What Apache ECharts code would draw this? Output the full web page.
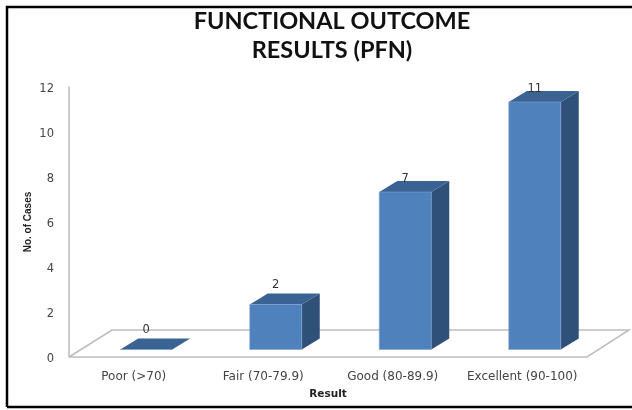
<!DOCTYPE html>
<html>
<head>
<meta charset="utf-8">
<style>
html, body { margin: 0; padding: 0; background: #fff; }
#main { width: 632px; height: 410px; }
</style>
<script src="https://cdn.jsdelivr.net/npm/echarts@6/dist/echarts.min.js"></script>
</head>
<body>
<div id="main"></div>
<script>
var categories = ['Poor (>70)', 'Fair (70-79.9)', 'Good (80-89.9)', 'Excellent (90-100)'];
var cases = [0, 2, 7, 11];
var yTicks = [0, 2, 4, 6, 8, 10, 12];

var chart = echarts.init(document.getElementById('main'));

var gridLeft = 69, gridTop = 87, gridRight = 45, gridBottom = 53;
var depthX = 18, depthY = 11;
var floorLift = 7.5, barWidth = 52, barShift = 12.5;

function renderBar(params, api) {
    var v = api.value(1);
    var p = api.coord([api.value(0), v]);
    var base = api.coord([api.value(0), 0]);
    var x0 = p[0] + barShift - barWidth / 2;
    var x1 = x0 + barWidth;
    var top = p[1] - floorLift;
    var bottom = base[1] - floorLift;
    var labelGap = v < 3 ? 19 : 13;
    return {
        type: 'group',
        children: [
            {
                type: 'polygon',
                shape: { points: [[x1, top], [x1 + depthX, top - depthY], [x1 + depthX, bottom - depthY], [x1, bottom]] },
                style: { fill: '#2f5079' }
            },
            {
                type: 'polygon',
                shape: { points: [[x0, top], [x0 + depthX, top - depthY], [x1 + depthX, top - depthY], [x1, top]] },
                style: { fill: '#3a6393' }
            },
            {
                type: 'rect',
                shape: { x: x0, y: top, width: barWidth, height: bottom - top },
                style: { fill: '#4f81bd', stroke: '#7fa3cf', lineWidth: 0.6 }
            },
            {
                type: 'text',
                x: x0 + barWidth / 2,
                y: top - labelGap,
                z2: 10,
                style: {
                    text: String(v),
                    fill: '#333',
                    font: '11.5px "DejaVu Sans"',
                    align: 'center',
                    verticalAlign: 'middle'
                }
            }
        ]
    };
}

chart.setOption({
    animation: false,
    backgroundColor: '#fff',
    title: {
        text: 'FUNCTIONAL OUTCOME\nRESULTS (PFN)',
        left: 327,
        top: 2,
        textAlign: 'center',
        textStyle: { fontFamily: 'Lato', fontWeight: 'bold', fontSize: 23.5, lineHeight: 29, color: '#111' }
    },
    graphic: [
        {
            type: 'polyline',
            silent: true,
            z: 0,
            shape: { points: [[69, 357], [112, 330], [629, 330], [587, 357], [69, 357]] },
            style: { stroke: '#bdbdbd', lineWidth: 1.5, fill: 'none' }
        },
        {
            type: 'polyline',
            silent: true,
            z: 100,
            shape: { points: [[7, 407], [7, 7], [632, 7]] },
            style: { stroke: '#000', lineWidth: 2.5, fill: 'none' }
        },
        {
            type: 'line',
            silent: true,
            z: 100,
            shape: { x1: 7, y1: 407, x2: 632, y2: 407 },
            style: { stroke: '#000', lineWidth: 2.5 }
        }
    ],
    grid: { left: gridLeft, top: gridTop, right: gridRight, bottom: gridBottom, containLabel: false },
    xAxis: {
        type: 'category',
        data: categories,
        name: 'Result',
        nameLocation: 'middle',
        nameGap: 32,
        nameMoveOverlap: false,
        nameTextStyle: { fontFamily: 'DejaVu Sans', fontWeight: 'bold', fontSize: 10.5, color: '#222' },
        axisLine: { show: false },
        axisTick: { show: false },
        axisLabel: { fontFamily: 'DejaVu Sans', fontSize: 12, color: '#444', margin: 14, interval: 0 }
    },
    yAxis: {
        type: 'value',
        min: yTicks[0],
        max: yTicks[yTicks.length - 1],
        interval: 2,
        name: 'No. of Cases',
        nameLocation: 'middle',
        nameGap: 36,
        nameMoveOverlap: false,
        nameTextStyle: { fontFamily: 'Liberation Sans', fontWeight: 'bold', fontSize: 10, color: '#222' },
        axisLine: { show: true, lineStyle: { color: '#bdbdbd', width: 1.5 } },
        axisTick: { show: false },
        splitLine: { show: false },
        axisLabel: { fontFamily: 'DejaVu Sans', fontSize: 11.5, color: '#444', margin: 15, verticalAlign: 'top', lineHeight: 5 }
    },
    series: [{
        type: 'custom',
        renderItem: renderBar,
        clip: false,
        encode: { x: 0, y: 1 },
        data: cases.map(function (v, i) { return [i, v]; })
    }]
});
</script>
</body>
</html>
